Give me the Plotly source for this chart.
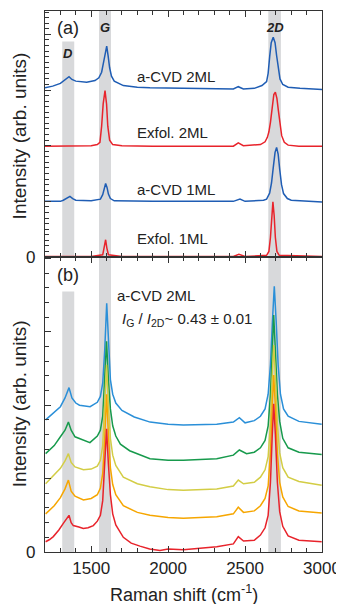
import plotly.graph_objects as go

# ---------------- Panel (a) data ----------------
a_cvd2_x = [1200, 1250, 1300, 1330, 1356, 1375, 1400, 1471, 1525, 1550, 1568, 1582, 1592, 1601, 1610, 1620, 1632, 1650,
            1709, 1800, 1882, 2100, 2300, 2424, 2456, 2489, 2560, 2610, 2640, 2650, 2660, 2670, 2683, 2695, 2705, 2715,
            2727, 2745, 2780, 2857, 3000]
a_cvd2_y = [3.04, 3.07, 3.12, 3.18, 3.24, 3.19, 3.16, 3.14, 3.17, 3.22, 3.32, 3.52, 3.70, 3.79, 3.62, 3.40, 3.25, 3.16,
            3.08, 3.05, 3.04, 3.03, 3.02, 3.02, 3.06, 3.02, 3.03, 3.08, 3.15, 3.30, 3.60, 3.85, 3.95, 3.85, 3.62, 3.40,
            3.20, 3.10, 3.05, 3.03, 3.01]

exf2_x = [1200, 1400, 1500, 1540, 1557, 1568, 1578, 1590, 1600, 1608, 1620, 1640, 1700, 1900, 2200, 2424, 2456, 2489,
          2600, 2630, 2645, 2655, 2665, 2675, 2687, 2697, 2707, 2717, 2727, 2738, 2755, 2780, 2850, 3000]
exf2_y = [1.99, 1.99, 2.00, 2.02, 2.06, 2.35, 2.75, 2.99, 2.75, 2.35, 2.10, 2.02, 2.00, 1.99, 1.99, 1.99, 2.05, 2.00,
          2.02, 2.07, 2.15, 2.25, 2.42, 2.68, 2.92, 2.96, 2.85, 2.62, 2.40, 2.18, 2.06, 2.01, 1.99, 1.99]

a_cvd1_x = [1200, 1300, 1319, 1340, 1362, 1380, 1400, 1500, 1560, 1575, 1585, 1594, 1603, 1612, 1625, 1650, 1900, 2424,
            2467, 2500, 2620, 2640, 2660, 2672, 2683, 2695, 2705, 2715, 2725, 2737, 2750, 2775, 2800, 3000]
a_cvd1_y = [1.00, 1.00, 1.02, 1.05, 1.09, 1.05, 1.02, 1.01, 1.04, 1.12, 1.24, 1.32, 1.25, 1.13, 1.05, 1.01, 1.00, 1.00,
            1.04, 1.00, 1.02, 1.04, 1.15, 1.33, 1.60, 1.88, 1.97, 1.85, 1.58, 1.30, 1.14, 1.05, 1.02, 0.99]

exf1_x = [1200, 1500, 1575, 1585, 1594, 1602, 1612, 1700, 2424, 2460, 2500, 2640, 2655, 2665, 2673, 2681, 2689, 2697,
          2707, 2722, 3000]
exf1_y = [0.01, 0.01, 0.04, 0.16, 0.31, 0.16, 0.04, 0.01, 0.01, 0.05, 0.01, 0.03, 0.10, 0.35, 0.75, 0.99, 0.75, 0.35,
          0.10, 0.03, 0.01]

# ---------------- Panel (b) data ----------------
b_blue_x = [1204, 1254, 1300, 1330, 1356, 1375, 1400, 1424, 1493, 1540, 1560, 1575, 1588, 1601, 1612, 1625, 1640, 1660,
            1700, 1780, 1883, 2000, 2099, 2200, 2316, 2424, 2463, 2500, 2560, 2600, 2630, 2650, 2665, 2678, 2690, 2702,
            2715, 2730, 2750, 2780, 2850, 2998]
b_blue_y = [1.80, 1.89, 1.98, 2.10, 2.24, 2.10, 2.03, 2.00, 1.98, 2.04, 2.12, 2.30, 2.75, 3.39, 2.80, 2.35, 2.15, 2.03,
            1.93, 1.84, 1.77, 1.74, 1.73, 1.73, 1.74, 1.77, 1.83, 1.76, 1.79, 1.85, 1.95, 2.15, 2.55, 3.15, 3.62, 3.15,
            2.55, 2.15, 1.95, 1.85, 1.78, 1.74]

b_green_x = [1204, 1260, 1300, 1330, 1352, 1370, 1395, 1450, 1492, 1540, 1560, 1575, 1588, 1600, 1612, 1625, 1640, 1660,
             1690, 1750, 1882, 2000, 2099, 2200, 2316, 2424, 2463, 2510, 2560, 2600, 2630, 2650, 2665, 2676, 2686, 2697,
             2710, 2725, 2745, 2780, 2850, 2998]
b_green_y = [1.34, 1.45, 1.57, 1.66, 1.77, 1.66, 1.57, 1.52, 1.49, 1.58, 1.66, 1.85, 2.30, 2.87, 2.35, 1.95, 1.72, 1.58,
             1.47, 1.38, 1.27, 1.25, 1.25, 1.26, 1.27, 1.32, 1.39, 1.34, 1.36, 1.42, 1.52, 1.72, 2.15, 2.70, 3.23, 2.75,
             2.15, 1.78, 1.55, 1.42, 1.36, 1.33]

b_yellow_x = [1204, 1260, 1300, 1330, 1352, 1370, 1395, 1450, 1500, 1540, 1560, 1575, 1588, 1600, 1612, 1625, 1640, 1660,
              1709, 1800, 1882, 2000, 2099, 2200, 2316, 2424, 2456, 2490, 2560, 2600, 2630, 2650, 2665, 2676, 2686, 2697,
              2710, 2725, 2745, 2780, 2850, 2998]
b_yellow_y = [0.93, 1.05, 1.14, 1.24, 1.34, 1.22, 1.16, 1.12, 1.13, 1.17, 1.25, 1.45, 1.95, 2.55, 2.00, 1.55, 1.32, 1.18,
              1.02, 0.93, 0.89, 0.85, 0.84, 0.85, 0.86, 0.90, 0.98, 0.93, 0.95, 1.02, 1.12, 1.30, 1.75, 2.35, 2.82, 2.40,
              1.75, 1.35, 1.15, 1.02, 0.96, 0.91]

b_orange_x = [1204, 1260, 1300, 1330, 1352, 1370, 1395, 1450, 1500, 1540, 1560, 1575, 1588, 1600, 1612, 1625, 1640, 1660,
              1709, 1800, 1882, 2000, 2099, 2200, 2316, 2424, 2456, 2490, 2560, 2600, 2630, 2650, 2665, 2676, 2686, 2697,
              2710, 2725, 2745, 2780, 2850, 2998]
b_orange_y = [0.52, 0.63, 0.74, 0.86, 0.98, 0.83, 0.76, 0.71, 0.73, 0.78, 0.87, 1.07, 1.55, 2.15, 1.60, 1.15, 0.92, 0.78,
              0.63, 0.54, 0.50, 0.47, 0.46, 0.47, 0.48, 0.52, 0.61, 0.54, 0.56, 0.63, 0.73, 0.90, 1.35, 1.95, 2.41, 1.98,
              1.35, 0.95, 0.75, 0.62, 0.56, 0.53]

b_red_x = [1204, 1230, 1254, 1290, 1319, 1340, 1356, 1370, 1384, 1420, 1449, 1480, 1514, 1540, 1560, 1575, 1588, 1600,
           1612, 1625, 1640, 1660, 1709, 1760, 1817, 1880, 1947, 2000, 2099, 2200, 2316, 2424, 2456, 2490, 2560, 2600,
           2630, 2650, 2665, 2676, 2686, 2697, 2710, 2725, 2745, 2780, 2850, 2998]
b_red_y = [0.14, 0.17, 0.21, 0.30, 0.39, 0.45, 0.50, 0.40, 0.36, 0.34, 0.32, 0.33, 0.36, 0.42, 0.50, 0.70, 1.15, 1.68,
           1.20, 0.78, 0.52, 0.37, 0.20, 0.12, 0.08, 0.04, 0.02, 0.04, 0.03, 0.05, 0.07, 0.11, 0.21, 0.15, 0.16, 0.23,
           0.33, 0.50, 0.95, 1.55, 2.02, 1.60, 0.95, 0.55, 0.35, 0.22, 0.16, 0.14]

# band ranges (cm^-1)
band_D = [1312, 1390]
band_G = [1551, 1629]
band_2D = [2651, 2733]

DARK_BLUE = "#1f5db4"
RED = "#e8232b"
SKY = "#2a8fd8"
GREEN = "#179a4c"
YELLOW = "#d3cd45"
ORANGE = "#f6a600"
GRAY = "#d8d9db"
AX = "#333333"
FONT = "Liberation Sans, Arial, sans-serif"

fig = go.Figure()

def add(x, y, color, xa, ya):
    fig.add_trace(go.Scatter(x=x, y=y, mode="lines", line=dict(color=color, width=1.5),
                             xaxis=xa, yaxis=ya, showlegend=False, hoverinfo="skip"))

add(a_cvd2_x, a_cvd2_y, DARK_BLUE, "x", "y")
add(exf2_x, exf2_y, RED, "x", "y")
add(a_cvd1_x, a_cvd1_y, DARK_BLUE, "x", "y")
add(exf1_x, exf1_y, RED, "x", "y")

add(b_blue_x, b_blue_y, SKY, "x2", "y2")
add(b_green_x, b_green_y, GREEN, "x2", "y2")
add(b_yellow_x, b_yellow_y, YELLOW, "x2", "y2")
add(b_orange_x, b_orange_y, ORANGE, "x2", "y2")
add(b_red_x, b_red_y, RED, "x2", "y2")

shapes = []
shapes.append(dict(type="rect", xref="x", yref="y", x0=band_D[0], x1=band_D[1], y0=0, y1=3.87,
                   fillcolor=GRAY, line_width=0, layer="below"))
shapes.append(dict(type="rect", xref="x", yref="y domain", x0=band_G[0], x1=band_G[1], y0=0, y1=1,
                   fillcolor=GRAY, line_width=0, layer="below"))
shapes.append(dict(type="rect", xref="x", yref="y domain", x0=band_2D[0], x1=band_2D[1], y0=0, y1=1,
                   fillcolor=GRAY, line_width=0, layer="below"))
shapes.append(dict(type="rect", xref="x2", yref="y2", x0=band_D[0], x1=band_D[1], y0=0, y1=3.55,
                   fillcolor=GRAY, line_width=0, layer="below"))
shapes.append(dict(type="rect", xref="x2", yref="y2 domain", x0=band_G[0], x1=band_G[1], y0=0, y1=1,
                   fillcolor=GRAY, line_width=0, layer="below"))
shapes.append(dict(type="rect", xref="x2", yref="y2 domain", x0=band_2D[0], x1=band_2D[1], y0=0, y1=1,
                   fillcolor=GRAY, line_width=0, layer="below"))

TXT = "#222222"
ann = []
def note(text, x, y, xr, yr, size, xanchor="left", **kw):
    ann.append(dict(text=text, x=x, y=y, xref=xr, yref=yr, showarrow=False, xanchor=xanchor,
                    yanchor="middle", font=dict(family=FONT, size=size, color=TXT), **kw))

note("(a)", 1262, 4.11, "x", "y", 18)
note("<b><i>G</i></b>", 1590, 4.13, "x", "y", 13, xanchor="center")
note("<b><i>2D</i></b>", 2695, 4.13, "x", "y", 13, xanchor="center")
note("<b><i>D</i></b>", 1351, 3.65, "x", "y", 13, xanchor="center")
note("a-CVD 2ML", 1785, 3.24, "x", "y", 15)
note("Exfol. 2ML", 1785, 2.24, "x", "y", 15)
note("a-CVD 1ML", 1785, 1.22, "x", "y", 15)
note("Exfol. 1ML", 1785, 0.34, "x", "y", 15)

note("(b)", 1262, 3.77, "x2", "y2", 18)
note("a-CVD 2ML", 1655, 3.50, "x2", "y2", 15)
note("<i>I</i><sub>G</sub> / <i>I</i><sub>2D</sub>~ 0.43 ± 0.01", 1687, 3.17, "x2", "y2", 15)

# zero labels of the y axes
note("0", -0.052, 0, "paper", "y", 17, xanchor="center")
note("0", -0.052, 0, "paper", "y2", 17, xanchor="center")

note("Intensity (arb. units)", -0.094, 0.77, "paper", "paper", 19, xanchor="center", textangle=-90)
note("Intensity (arb. units)", -0.094, 0.275, "paper", "paper", 19, xanchor="center", textangle=-90)
note("Raman shift (cm<sup>-1</sup>)", 0.5, -0.076, "paper", "paper", 18, xanchor="center")

split = 295 / 541

xcommon = dict(range=[1200, 3000], tick0=0, dtick=500, ticks="inside", ticklen=6, tickwidth=1, tickcolor=AX,
               showline=True, linecolor=AX, linewidth=1.2, mirror="ticks", showgrid=False, zeroline=False,
               minor=dict(dtick=100, tick0=0, ticks="inside", ticklen=3.5, tickcolor=AX, showgrid=False),
               tickfont=dict(family=FONT, size=17, color=TXT))

ycommon = dict(tick0=0, dtick=1, ticks="inside", ticklen=6, tickcolor=AX, showline=True, linecolor=AX,
               linewidth=1.2, mirror=True, showgrid=False, zeroline=False, showticklabels=False)

# the page body has an 8px margin; the figure is sized so that it fills the 344x604 window
fig.update_layout(
    width=336, height=596,
    margin=dict(l=37, r=22, t=3, b=52, pad=0),
    paper_bgcolor="white", plot_bgcolor="white",
    showlegend=False,
    shapes=shapes, annotations=ann,
    xaxis=dict(domain=[0, 1], anchor="y", showticklabels=False, **xcommon),
    xaxis2=dict(domain=[0, 1], anchor="y2", **xcommon),
    yaxis=dict(domain=[split, 1], anchor="x", range=[0, 4.42],
               minor=dict(dtick=0.1, tick0=0, ticks="inside", ticklen=3.5, tickcolor=AX, showgrid=False),
               **ycommon),
    yaxis2=dict(domain=[0, split], anchor="x2", range=[0, 4.02],
                minor=dict(dtick=0.2, tick0=0, ticks="inside", ticklen=3.5, tickcolor=AX, showgrid=False),
                **ycommon),
)

fig.write_html("out.html")
